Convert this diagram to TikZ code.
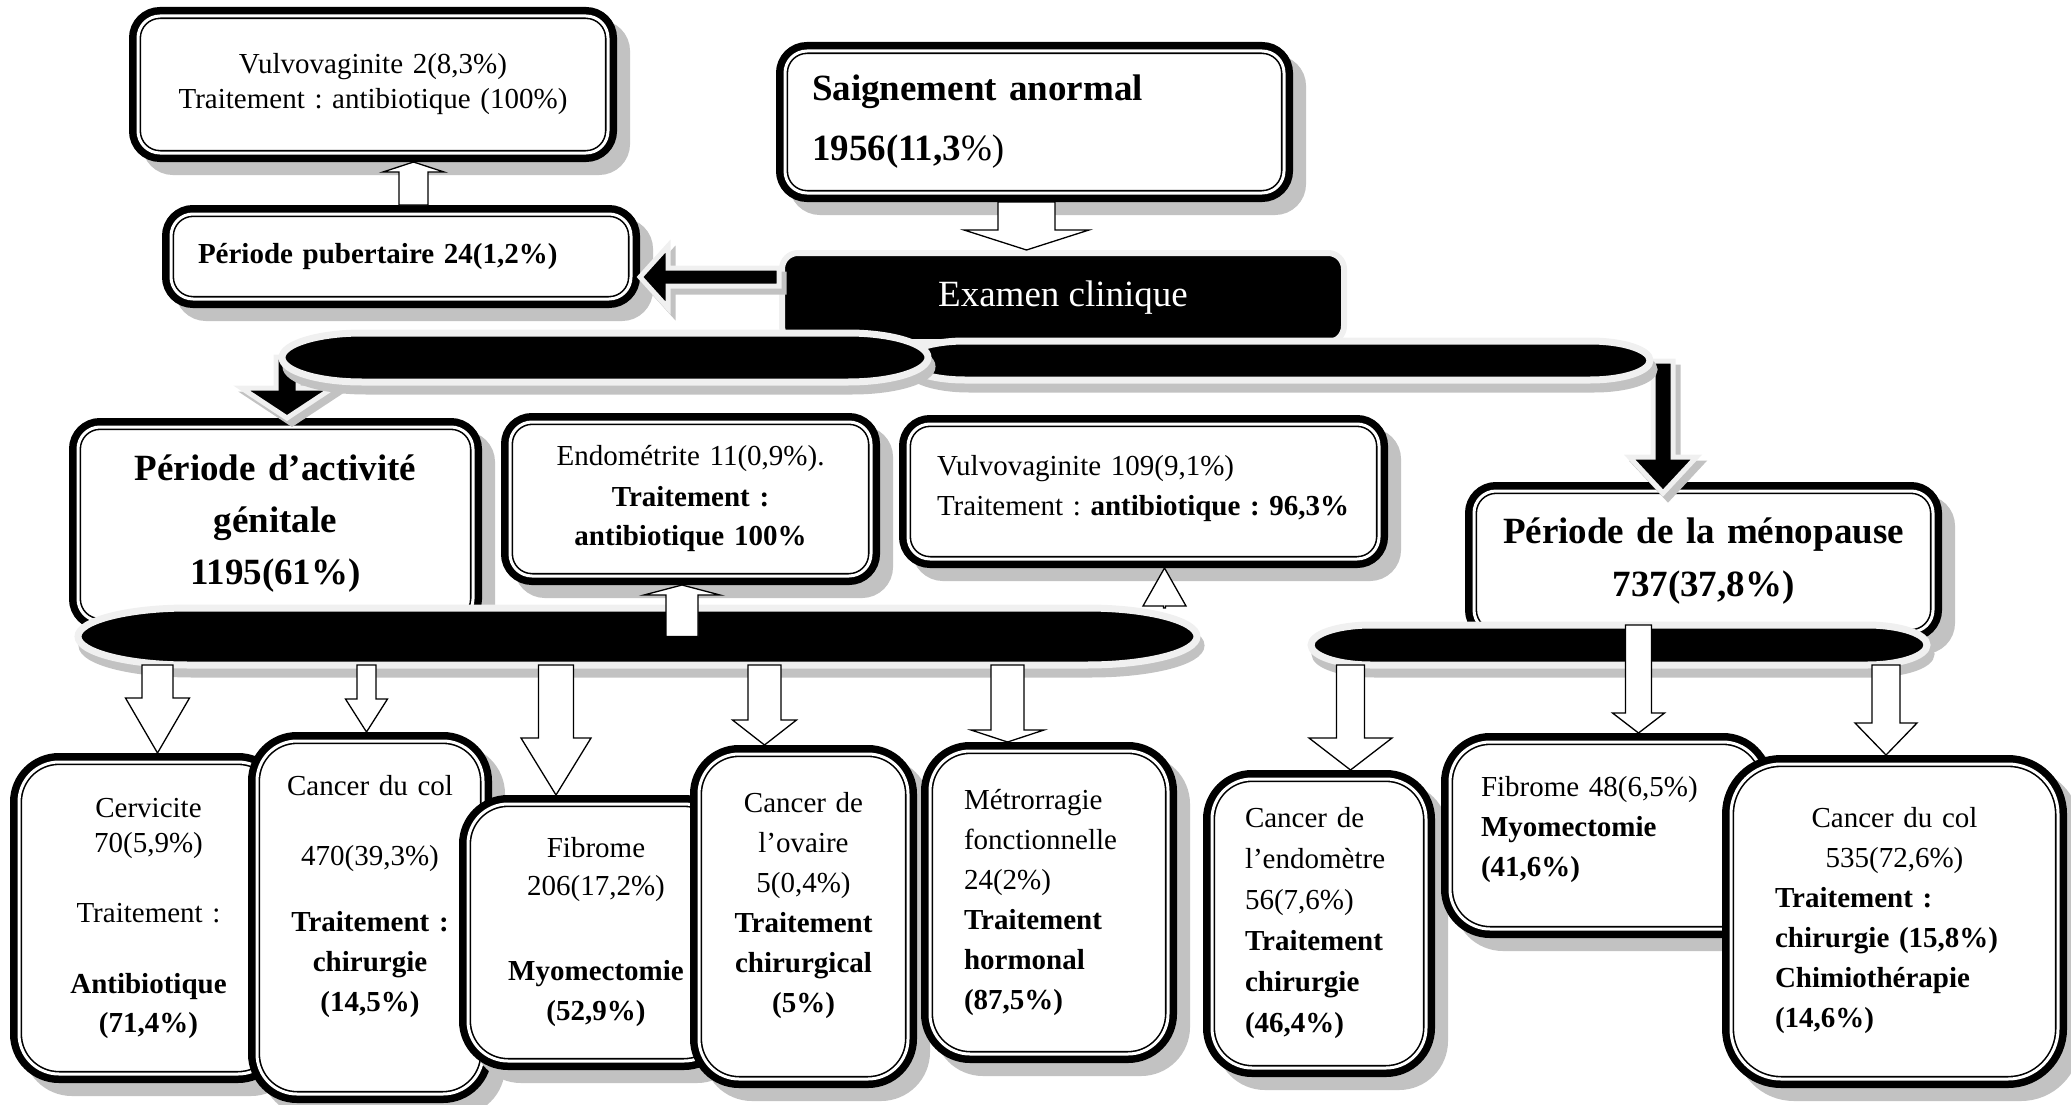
\documentclass[tikz,border=0pt]{standalone}
\usepackage{fontspec}
\setmainfont{Liberation Serif}
\usetikzlibrary{calc, shadows}
\frenchspacing

\definecolor{lueur}{gray}{0.94}
\definecolor{ombre}{gray}{0.76}

% petite profondeur pour remonter le texte dans une boite
\newcommand{\relever}[1]{\rule[-#1]{0pt}{0pt}}

% fleche large : style, depart, arrivee, demi-largeur du corps, demi-largeur de la pointe, longueur de la pointe
\newcommand{\flechebloc}[6]{%
  \coordinate (fb) at ($(#3)!#6pt!(#2)$);
  \draw[#1] ($(#2)!#4pt!90:(#3)$) -- ($(fb)!#4pt!-90:(#2)$) -- ($(fb)!#5pt!-90:(#2)$) -- (#3)
    -- ($(fb)!#5pt!90:(#2)$) -- ($(fb)!#4pt!90:(#2)$) -- ($(#2)!#4pt!-90:(#3)$) -- cycle;
}

% barre noire : nom, centre x, centre y, demi-longueur, demi-hauteur, rayon des bouts
\newcommand{\barre}[6]{%
  \draw[barre] (#2-#4+#6,#3-#5) -- (#2+#4-#6,#3-#5)
    arc[start angle=90, end angle=-90, x radius=#6pt, y radius=#5pt]
    -- (#2-#4+#6,#3+#5)
    arc[start angle=270, end angle=90, x radius=#6pt, y radius=#5pt] -- cycle;
  \node[inner sep=0pt, outer sep=0pt, minimum width=2*#4, minimum height=2*#5] (#1) at (#2,#3) {};
}

\begin{document}
\begin{tikzpicture}[%
    x=1pt, y=-1pt,      % une unite = un pixel, y vers le bas
    boite/.style={rectangle, rounded corners=#1, fill=white,
        drop shadow={shadow xshift=13pt, shadow yshift=-13pt, fill=ombre, draw=ombre, line width=18pt, opacity=1},
        preaction={draw=black, line width=18pt},
        draw=black, line width=1.6pt, double=white, double distance=3pt,
        outer sep=9pt, inner sep=0pt, align=center,
        font=\fontsize{29}{40}\selectfont},
    boite/.default=22pt,
    noir/.style={rectangle, rounded corners=16pt, fill=black, draw=lueur, line width=6pt,
        text=white, font=\fontsize{37}{44}\selectfont},
    barre/.style={fill=black, draw=lueur, line width=7pt,
        drop shadow={shadow xshift=4pt, shadow yshift=-9pt, fill=ombre, draw=ombre, line width=7pt, opacity=1}},
    flechecreuse/.style={fill=white, draw=black, line width=1.3pt, line join=miter},
    flechenoire/.style={fill=black, draw=lueur, line width=5pt, line join=miter,
        drop shadow={shadow xshift=5pt, shadow yshift=-6pt, fill=ombre, draw=ombre, line width=5pt, opacity=1}}
]
    \useasboundingbox (0,0) rectangle (2071,1105);

    % ==========================================
    % 1. Haut : saignement, examen, puberte
    % ==========================================
    \node[boite, minimum width=470pt, minimum height=137pt, text width=440pt,
        font=\fontsize{29}{35}\selectfont] (vulvo2) at (373,84.5)
        {Vulvovaginite 2(8,3\%)\\Traitement : antibiotique (100\%)\relever{8pt}};
    \node[boite, minimum width=460pt, minimum height=85pt, text width=406pt, align=left,
        font=\fontsize{29}{40}\selectfont\bfseries] (pubertaire) at (401,256.5)
        {Période pubertaire 24(1,2\%)};
    \node[boite, minimum width=499pt, minimum height=142pt, text width=445pt, align=left,
        font=\fontsize{37}{60}\selectfont] (saignement) at (1034.5,122)
        {\textbf{Saignement anormal}\\\textbf{1956(11,3}\%)};
    \node[noir, minimum width=562pt, minimum height=89pt] (examen) at (1063,297.5) {Examen clinique};

    % Saignement -> Examen
    \coordinate (d) at (1026.5,0);
    \coordinate (s) at (saignement.south -| d);
    \coordinate (t) at (examen.north -| d);
    \flechebloc{flechecreuse}{s}{t}{28.5}{62.5}{20}

    % Pubertaire -> Vulvovaginite
    \coordinate (d) at (413.5,0);
    \coordinate (s) at (pubertaire.north -| d);
    \coordinate (t) at (vulvo2.south -| d);
    \flechebloc{flechecreuse}{s}{t}{14.5}{30.5}{10}

    % Examen -> Pubertaire
    \coordinate (h) at (0,277);
    \coordinate (s) at (examen.west |- h);
    \coordinate (t) at (pubertaire.east |- h);
    \flechebloc{flechenoire}{s}{t}{9}{31}{28}

    % ==========================================
    % 2. Milieu : periodes et infections
    % ==========================================
    \node[boite, minimum width=395pt, minimum height=194pt, text width=380pt,
        font=\fontsize{37}{52}\selectfont\bfseries] (activite) at (275.5,524)
        {Période d’activité\\génitale\\1195(61\%)};
    \node[boite, minimum width=361pt, minimum height=154pt, text width=340pt] (endometrite) at (690.5,499)
        {Endométrite 11(0,9\%).\\\textbf{Traitement :}\\\textbf{antibiotique 100\%}};
    \node[boite, minimum width=471pt, minimum height=135pt, text width=413pt, align=left] (vulvo109) at (1143.5,491.5)
        {Vulvovaginite 109(9,1\%)\\\mbox{Traitement : \textbf{antibiotique : 96,3\%}}\relever{12pt}};
    \node[boite, minimum width=459pt, minimum height=141pt, text width=440pt,
        font=\fontsize{37}{53}\selectfont\bfseries] (menopause) at (1703.5,561.5)
        {Période de la ménopause\\737(37,8\%)};

    % fleches noires depuis la barre du haut
    \coordinate (depart-activite) at (287,357);
    \coordinate (t) at (activite.north -| depart-activite);
    \flechebloc{flechenoire}{depart-activite}{t}{11}{45.5}{30}
    \coordinate (depart-menopause) at (1663,361);
    \coordinate (t) at ($(menopause.north -| depart-menopause)+(0,11)$);
    \flechebloc{flechenoire}{depart-menopause}{t}{10}{33.5}{36}

    % barres noires
    \barre{barreS}{1277.5}{360.5}{372.5}{19.5}{60}
    \barre{barreH}{605}{357.5}{323}{24.5}{80}
    \barre{barreG}{637.5}{636.5}{559.5}{28.5}{110}
    \barre{barreD}{1619}{645}{308}{20}{60}

    % ==========================================
    % 3. Bas : diagnostics et traitements
    % ==========================================
    \node[boite=40pt, minimum width=259pt, minimum height=312pt, text width=230pt,
        font=\fontsize{29}{35}\selectfont] (cervicite) at (148.5,918)
        {Cervicite\\70(5,9\%)\\[35pt]Traitement :\\[36pt]\textbf{Antibiotique}\\[4pt]\textbf{(71,4\%)}};
    \node[boite=40pt, minimum width=226pt, minimum height=353pt, text width=210pt] (col) at (370,917.5)
        {Cancer du col\\[30pt]470(39,3\%)\\[26pt]\textbf{Traitement :}\\\textbf{chirurgie}\\\textbf{(14,5\%)}\relever{48pt}};
    \node[boite=40pt, minimum width=256pt, minimum height=257pt, text width=230pt] (fibrome) at (596,932.5)
        {Fibrome\\[-2pt]206(17,2\%)\\[45pt]\textbf{Myomectomie}\\\textbf{(52,9\%)}};
    \node[boite=40pt, minimum width=209pt, minimum height=325pt, text width=200pt] (ovaire) at (803.5,916.5)
        {Cancer de\\l’ovaire\\5(0,4\%)\\\textbf{Traitement}\\\textbf{chirurgical}\\\textbf{(5\%)}\relever{29pt}};
    \node[boite=40pt, minimum width=238pt, minimum height=303pt, text width=170pt, align=left] (metro) at (1049,902.5)
        {Métrorragie\\fonctionnelle\\24(2\%)\\\textbf{Traitement}\\\textbf{hormonal}\\\textbf{(87,5\%)}};
    \node[boite=40pt, minimum width=214pt, minimum height=289pt, text width=148pt, align=left,
        font=\fontsize{29}{41}\selectfont] (endometre) at (1319,923.5)
        {Cancer de\\l’endomètre\\56(7,6\%)\\\textbf{Traitement}\\\textbf{chirurgie}\\\textbf{(46,4\%)}};
    \node[boite=40pt, minimum width=313pt, minimum height=187pt, text width=251pt, align=left] (fibrome48) at (1606.5,835.5)
        {Fibrome 48(6,5\%)\\\textbf{Myomectomie}\\\textbf{(41,6\%)}\relever{18pt}};
    \node[boite=50pt, minimum width=327pt, minimum height=315pt, text width=239pt, align=left] (col535) at (1894.5,921.5)
        {\makebox[\linewidth]{Cancer du col}\\\makebox[\linewidth]{535(72,6\%)}\\\textbf{Traitement :}\\\textbf{chirurgie (15,8\%)}\\\textbf{Chimiothérapie}\\\textbf{(14,6\%)}\relever{9pt}};

    % fleches creuses depuis les barres
    \foreach \fx/\fde/\fvers/\fa/\fb/\fl in {
        157.5/barreG.south/cervicite.north/15.5/32/55,
        366.5/barreG.south/col.north/9.5/21/33,
        556/barreG.south/fibrome.north/17.5/35/57,
        764.5/barreG.south/ovaire.north/16.5/32/25,
        1007.5/barreG.south/metro.north/16.5/36.5/12,
        1350.5/barreD.south/endometre.north/14/41.5/32,
        1638.5/barreD.north/fibrome48.north/13/26/20,
        1886/barreD.south/col535.north/14/31/32,
        682/barreG.center/endometrite.south/16/38/10,
        1164.5/barreG.north/vulvo109.south/1/21.5/38}{
        \coordinate (d) at (\fx,0);
        \coordinate (s) at (\fde -| d);
        \coordinate (t) at (\fvers -| d);
        \flechebloc{flechecreuse}{s}{t}{\fa}{\fb}{\fl}
    }

\end{tikzpicture}
\end{document}
